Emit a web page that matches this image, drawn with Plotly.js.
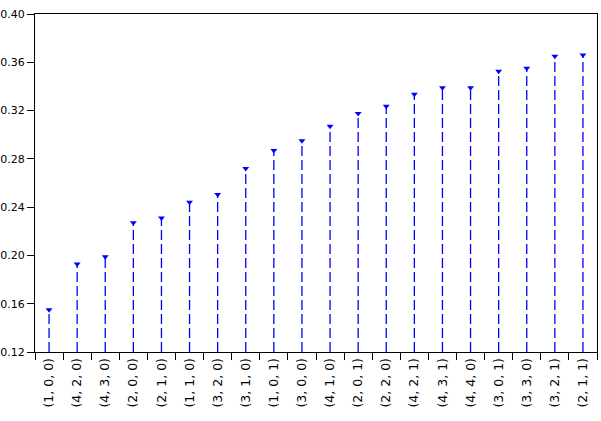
<!DOCTYPE html>
<html>
<head>
<meta charset="utf-8">
<script src="https://cdn.plot.ly/plotly-3.0.1.min.js"></script>
<style>html,body{margin:0;padding:0;background:#fff;}#chart{width:601px;height:421px;}</style>
</head>
<body>
<div id="chart"></div>
<script>
const categories = ["(1, 0, 0)","(4, 2, 0)","(4, 3, 0)","(2, 0, 0)","(2, 1, 0)","(1, 1, 0)","(3, 2, 0)","(3, 1, 0)","(1, 0, 1)","(3, 0, 0)","(4, 1, 0)","(2, 0, 1)","(2, 2, 0)","(4, 2, 1)","(4, 3, 1)","(4, 4, 0)","(3, 0, 1)","(3, 3, 0)","(3, 2, 1)","(2, 1, 1)"];
const values = [0.155,0.193,0.199,0.227,0.231,0.244,0.2505,0.272,0.287,0.295,0.307,0.3175,0.3235,0.3335,0.339,0.339,0.3525,0.355,0.365,0.366];
const baseValue = 0.12;
const yTickValues = [0.12,0.16,0.20,0.24,0.28,0.32,0.36,0.40];

// stems built from the data
const stemX = [], stemY = [];
categories.forEach((c, i) => { stemX.push(c, c, null); stemY.push(baseValue, values[i], null); });

const traces = [
  {x: stemX, y: stemY, type: 'scatter', mode: 'lines', connectgaps: false,
   line: {color: '#0000ff', width: 1.3, dash: '10px,4px'}, hoverinfo: 'skip'},
  {x: categories, y: values, type: 'scatter', mode: 'markers',
   marker: {symbol: 'triangle-down', size: 6, color: '#0000ff'}}
];

const layout = {
  width: 601, height: 421,
  margin: {l: 35, r: 4, t: 14, b: 69},
  paper_bgcolor: '#fff', plot_bgcolor: '#fff',
  showlegend: false,
  font: {family: 'DejaVu Sans', size: 11, color: '#000'},
  xaxis: {type: 'category', categoryorder: 'array', categoryarray: categories,
    range: [-0.5, categories.length - 0.5], tickson: 'boundaries',
    ticks: 'outside', ticklen: 7, tickcolor: '#000', tickwidth: 1,
    showline: true, linecolor: '#000', linewidth: 1, mirror: true,
    showgrid: false, zeroline: false, tickangle: -90,
    tickfont: {family: 'DejaVu Sans', size: 12.5, color: '#000'}},
  yaxis: {range: [0.12, 0.40], tickvals: yTickValues, tickformat: '.2f',
    ticks: 'outside', ticklen: 7, tickcolor: '#000', tickwidth: 1,
    showline: true, linecolor: '#000', linewidth: 1, mirror: true,
    showgrid: false, zeroline: false,
    tickfont: {family: 'DejaVu Sans', size: 11, color: '#000'}}
};

Plotly.newPlot('chart', traces, layout, {displayModeBar: false, staticPlot: true});
</script>
</body>
</html>
